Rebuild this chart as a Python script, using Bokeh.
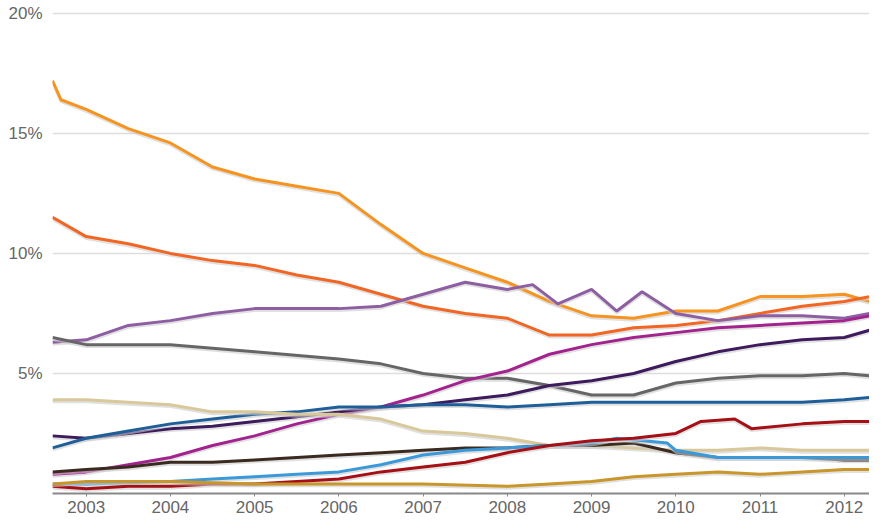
from bokeh.plotting import figure
from bokeh.embed import file_html
from bokeh.resources import INLINE
from bokeh.models import FixedTicker

years = [2003, 2004, 2005, 2006, 2007, 2008, 2009, 2010, 2011, 2012]
ytick_vals = [5, 10, 15, 20]

series = [
    ("#f7931e", [2002.6, 2002.7, 2003, 2003.5, 2004, 2004.5, 2005, 2005.5, 2006, 2006.5, 2007, 2007.5, 2008, 2008.5, 2009, 2009.5, 2010, 2010.5, 2011, 2011.5, 2012, 2012.3],
     [17.2, 16.4, 16.0, 15.2, 14.6, 13.6, 13.1, 12.8, 12.5, 11.2, 10.0, 9.4, 8.8, 8.0, 7.4, 7.3, 7.6, 7.6, 8.2, 8.2, 8.3, 8.0]),
    ("#f26522", [2002.6, 2003, 2003.5, 2004, 2004.5, 2005, 2005.5, 2006, 2006.5, 2007, 2007.5, 2008, 2008.5, 2009, 2009.5, 2010, 2010.5, 2011, 2011.5, 2012, 2012.3],
     [11.5, 10.7, 10.4, 10.0, 9.7, 9.5, 9.1, 8.8, 8.3, 7.8, 7.5, 7.3, 6.6, 6.6, 6.9, 7.0, 7.2, 7.5, 7.8, 8.0, 8.2]),
    ("#8e5ea2", [2002.6, 2003, 2003.5, 2004, 2004.5, 2005, 2005.5, 2006, 2006.5, 2007, 2007.5, 2008, 2008.3, 2008.6, 2009, 2009.3, 2009.6, 2010, 2010.5, 2011, 2011.5, 2012, 2012.3],
     [6.3, 6.4, 7.0, 7.2, 7.5, 7.7, 7.7, 7.7, 7.8, 8.3, 8.8, 8.5, 8.7, 7.9, 8.5, 7.6, 8.4, 7.5, 7.2, 7.4, 7.4, 7.3, 7.5]),
    ("#666666", [2002.6, 2003, 2004, 2005, 2006, 2006.5, 2007, 2007.5, 2008, 2008.5, 2009, 2009.5, 2010, 2010.5, 2011, 2011.5, 2012, 2012.3],
     [6.5, 6.2, 6.2, 5.9, 5.6, 5.4, 5.0, 4.8, 4.8, 4.5, 4.1, 4.1, 4.6, 4.8, 4.9, 4.9, 5.0, 4.9]),
    ("#a3238e", [2002.6, 2003, 2003.5, 2004, 2004.5, 2005, 2005.5, 2006, 2006.5, 2007, 2007.5, 2008, 2008.5, 2009, 2009.5, 2010, 2010.5, 2011, 2011.5, 2012, 2012.3],
     [0.8, 0.9, 1.2, 1.5, 2.0, 2.4, 2.9, 3.3, 3.6, 4.1, 4.7, 5.1, 5.8, 6.2, 6.5, 6.7, 6.9, 7.0, 7.1, 7.2, 7.4]),
    ("#3d1b5c", [2002.6, 2003, 2003.5, 2004, 2004.5, 2005, 2005.5, 2006, 2006.5, 2007, 2007.5, 2008, 2008.5, 2009, 2009.5, 2010, 2010.5, 2011, 2011.5, 2012, 2012.3],
     [2.4, 2.3, 2.5, 2.7, 2.8, 3.0, 3.2, 3.4, 3.6, 3.7, 3.9, 4.1, 4.5, 4.7, 5.0, 5.5, 5.9, 6.2, 6.4, 6.5, 6.8]),
    ("#1f5f99", [2002.6, 2003, 2003.5, 2004, 2004.5, 2005, 2005.5, 2006, 2006.5, 2007, 2007.5, 2008, 2008.5, 2009, 2009.5, 2010, 2010.5, 2011, 2011.5, 2012, 2012.3],
     [1.9, 2.3, 2.6, 2.9, 3.1, 3.3, 3.4, 3.6, 3.6, 3.7, 3.7, 3.6, 3.7, 3.8, 3.8, 3.8, 3.8, 3.8, 3.8, 3.9, 4.0]),
    ("#d8c89a", [2002.6, 2003, 2003.5, 2004, 2004.5, 2005, 2005.5, 2006, 2006.5, 2007, 2007.5, 2008, 2008.5, 2009, 2009.5, 2010, 2010.5, 2011, 2011.5, 2012, 2012.3],
     [3.9, 3.9, 3.8, 3.7, 3.4, 3.4, 3.3, 3.3, 3.1, 2.6, 2.5, 2.3, 2.0, 2.0, 1.9, 1.8, 1.8, 1.9, 1.8, 1.8, 1.8]),
    ("#3b2a1f", [2002.6, 2003, 2003.5, 2004, 2004.5, 2005, 2005.5, 2006, 2006.5, 2007, 2007.5, 2008, 2008.5, 2009, 2009.5, 2010, 2010.5, 2011, 2011.5, 2012, 2012.3],
     [0.9, 1.0, 1.1, 1.3, 1.3, 1.4, 1.5, 1.6, 1.7, 1.8, 1.9, 1.9, 2.0, 2.0, 2.1, 1.7, 1.5, 1.5, 1.5, 1.4, 1.4]),
    ("#3a9ad9", [2002.6, 2003, 2004, 2004.5, 2005, 2005.5, 2006, 2006.5, 2007, 2007.5, 2008, 2008.5, 2009, 2009.3, 2009.9, 2010, 2010.5, 2011, 2011.5, 2012, 2012.3],
     [0.4, 0.4, 0.5, 0.6, 0.7, 0.8, 0.9, 1.2, 1.6, 1.8, 1.9, 2.0, 2.1, 2.3, 2.1, 1.8, 1.5, 1.5, 1.5, 1.5, 1.5]),
    ("#a50f15", [2002.6, 2003, 2003.5, 2004, 2004.5, 2005, 2005.5, 2006, 2006.5, 2007, 2007.5, 2008, 2008.5, 2009, 2009.5, 2010, 2010.3, 2010.7, 2010.9, 2011.5, 2012, 2012.3],
     [0.3, 0.2, 0.3, 0.3, 0.4, 0.4, 0.5, 0.6, 0.9, 1.1, 1.3, 1.7, 2.0, 2.2, 2.3, 2.5, 3.0, 3.1, 2.7, 2.9, 3.0, 3.0]),
    ("#c8962a", [2002.6, 2003, 2004, 2005, 2006, 2007, 2008, 2008.5, 2009, 2009.5, 2010, 2010.5, 2011, 2011.5, 2012, 2012.3],
     [0.4, 0.5, 0.5, 0.4, 0.4, 0.4, 0.3, 0.4, 0.5, 0.7, 0.8, 0.9, 0.8, 0.9, 1.0, 1.0]),
]

p = figure(width=869, height=515, output_backend="svg", toolbar_location=None,
           x_range=(2002.6, 2012.3), y_range=(0, 20.2),
           min_border_left=52, min_border_right=0, min_border_top=8, min_border_bottom=18)
p.outline_line_color = None
p.background_fill_color = "white"

for color, xs, ys in series:
    p.line(xs, [y - 0.08 for y in ys], line_color="#cccccc", line_width=3, line_alpha=0.6)
    p.line(xs, ys, line_color=color, line_width=3)

p.xaxis.ticker = FixedTicker(ticks=years)
p.xaxis.major_label_overrides = {y: str(y) for y in years}
p.yaxis.ticker = FixedTicker(ticks=ytick_vals)
p.yaxis.major_label_overrides = {v: f"{v}%" for v in ytick_vals}
p.xgrid.grid_line_color = None
p.ygrid.grid_line_color = "#dddddd"
p.ygrid.grid_line_width = 1.5
p.yaxis.axis_line_color = None
p.yaxis.major_tick_line_color = None
p.yaxis.minor_tick_line_color = None
p.yaxis.major_label_standoff = 4
p.xaxis.axis_line_color = "#888888"
p.xaxis.axis_line_width = 2
p.xaxis.major_tick_line_color = "#888888"
p.xaxis.major_tick_in = 0
p.xaxis.major_tick_out = 3
p.xaxis.major_label_standoff = 4
p.xaxis.minor_tick_line_color = None
for ax in (p.xaxis, p.yaxis):
    ax.major_label_text_font = "Liberation Sans"
    ax.major_label_text_font_size = "17px"
    ax.major_label_text_color = "#666666"

open("out.html", "w").write(file_html(p, INLINE))
